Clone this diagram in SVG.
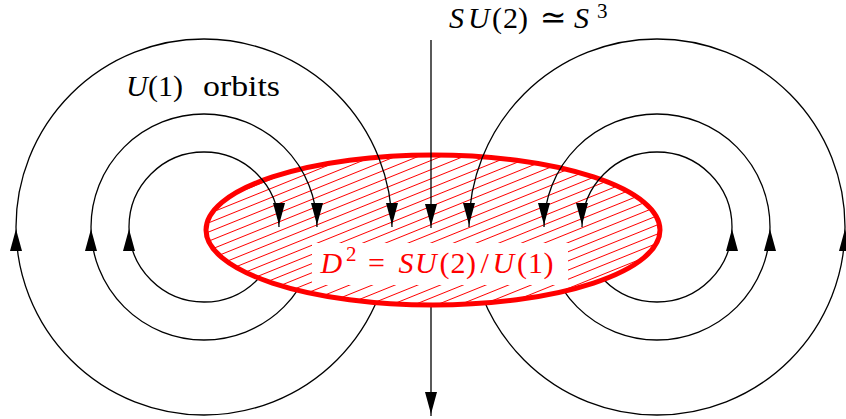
<svg xmlns="http://www.w3.org/2000/svg" width="846" height="419" viewBox="0 0 846 419">
  <style>
    .ln { fill: none; stroke: #000; stroke-width: 1.3; }
    .arr { marker-end: url(#ah); }
    .t { font-family: "Liberation Serif", "DejaVu Serif", serif; font-size: 30px; fill: #000; }
    .i { font-style: italic; }
    .sup { font-size: 21px; }
    .red { fill: #ff0000; }
  </style>
  <defs>
    <marker id="ah" markerUnits="userSpaceOnUse" viewBox="-23 -7 25 14" markerWidth="25" markerHeight="14" refX="2" refY="0" orient="auto">
      <path d="M0,0 L-22,-6 L-22,6 Z" fill="#000"/>
    </marker>
    <pattern id="hatch" patternUnits="userSpaceOnUse" width="20" height="8.5" patternTransform="rotate(-22)">
      <line x1="-1" y1="4.25" x2="21" y2="4.25" stroke="#ff0000" stroke-width="1"/>
    </pattern>
  </defs>
  <rect width="846" height="419" fill="#fff"/>

  <!-- connectors below the disc -->
  <g id="connectors-under">
    <path class="ln arr" d="M279,227 A75,75 0 0 1 129,227"/>
    <path class="ln arr" d="M317,227 A113,113 0 0 1 91,227"/>
    <path class="ln arr" d="M392,227 A188,188 0 0 1 16,227"/>
    <path class="ln arr" d="M582,227 A75,75 0 0 0 732,227"/>
    <path class="ln arr" d="M544,227 A113,113 0 0 0 770,227"/>
    <path class="ln arr" d="M469,227 A188,188 0 0 0 845,227"/>
    <path class="ln arr" d="M431,229 V416"/>
  </g>

  <!-- the disc D^2 -->
  <g id="disc">
    <ellipse cx="433" cy="230" rx="227" ry="75" fill="#fff"/>
    <ellipse cx="433" cy="230" rx="227" ry="75" fill="url(#hatch)" stroke="#ff0000" stroke-width="5"/>
  </g>

  <!-- connectors above the disc -->
  <g id="connectors-over">
    <path class="ln arr" d="M129,227 A75,75 0 0 1 279,227"/>
    <path class="ln arr" d="M91,227 A113,113 0 0 1 317,227"/>
    <path class="ln arr" d="M16,227 A188,188 0 0 1 392,227"/>
    <path class="ln arr" d="M732,227 A75,75 0 0 0 582,227"/>
    <path class="ln arr" d="M770,227 A113,113 0 0 0 544,227"/>
    <path class="ln arr" d="M845,227 A188,188 0 0 0 469,227"/>
    <path class="ln arr" d="M431,40 V228"/>
  </g>

  <g id="label-disc">
    <rect x="312" y="243" width="256" height="42" fill="#fff"/>
    <text class="t red" y="273"><tspan class="i" x="320.5">D</tspan><tspan class="sup" x="346" y="261">2</tspan><tspan x="368" y="273">=</tspan><tspan class="i" x="398.5">S</tspan><tspan class="i" x="415">U</tspan><tspan x="439.5">(</tspan><tspan x="450.5">2</tspan><tspan x="466">)</tspan><tspan x="480.5">/</tspan><tspan class="i" x="492.5">U</tspan><tspan x="517">(</tspan><tspan x="528">1</tspan><tspan x="543.5">)</tspan></text>
  </g>

  <g id="label-su2">
    <text class="t" y="28"><tspan class="i" x="449">S</tspan><tspan class="i" x="468">U</tspan><tspan x="492">(</tspan><tspan x="503">2</tspan><tspan x="518">)</tspan><tspan x="540" font-size="32">≃</tspan><tspan class="i" x="574">S</tspan><tspan class="sup" x="597" y="18">3</tspan></text>
  </g>

  <g id="label-orbits">
    <text class="t" y="96"><tspan class="i" x="126">U</tspan><tspan x="148">(</tspan><tspan x="158">1</tspan><tspan x="173">)</tspan><tspan x="203" textLength="77" lengthAdjust="spacingAndGlyphs">orbits</tspan></text>
  </g>
</svg>
